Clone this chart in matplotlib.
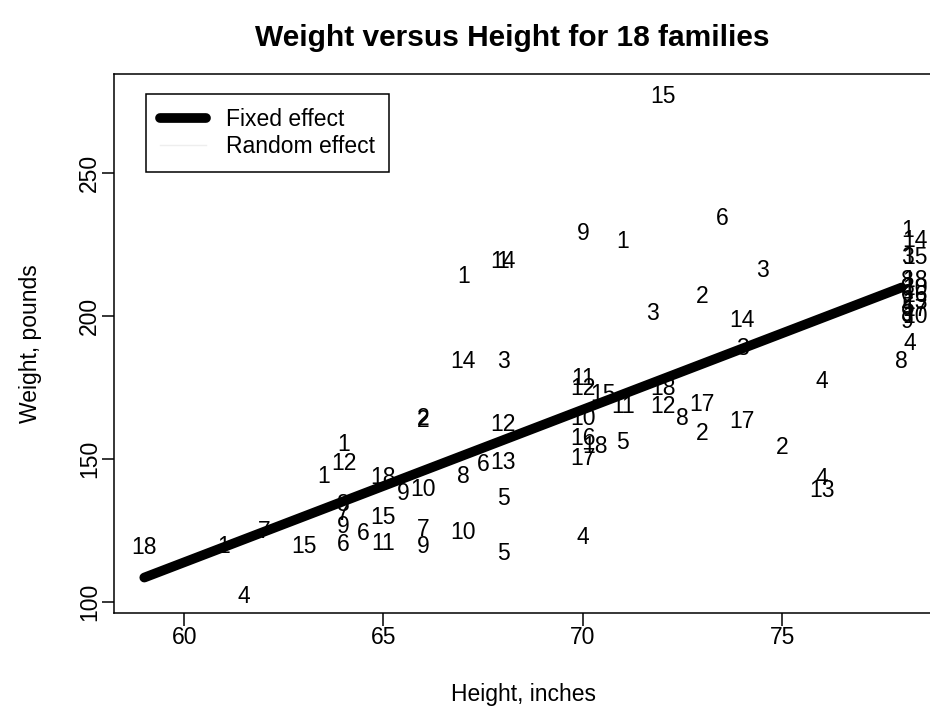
import matplotlib
matplotlib.use("Agg")
import matplotlib.pyplot as plt
from matplotlib.lines import Line2D

plt.rcParams['font.family'] = ['Liberation Sans', 'DejaVu Sans']

# Family number of each person, with height (inches) and weight (pounds)
family = [15, 6, 9, 1, 1, 14, 1, 3, 2, 3, 14, 3, 14, 3, 2, 2, 12,
          1, 14, 3, 15, 8, 18, 3, 10, 6, 16, 2, 13, 5, 17, 9, 10, 9, 4, 8,
          4, 11, 12, 15, 18, 12, 11, 17, 17, 8, 2,
          10, 16, 18, 17, 5, 2, 4, 13, 4, 5, 5, 13, 6, 8, 10, 7, 9, 10, 9,
          18, 15, 11, 6, 6, 15, 1, 12, 1, 8, 7, 9, 4, 18, 1, 7]
height = [72, 73.5, 70, 71, 68, 68, 67, 74.5, 73, 71.75, 74, 74, 67, 68, 66, 66, 68,
          78.15, 78.33, 78.15, 78.33, 78.15, 78.33, 78.15, 78.33, 78.15, 78.33,
          78.15, 78.33, 78.15, 78.33, 78.15, 78.33, 78.15, 78.2, 78,
          76, 70, 70, 70.5, 72, 72, 71, 73, 74, 72.5, 73,
          70, 70, 70.3, 70, 71, 75, 76, 76, 70, 68, 68, 68, 67.5, 67, 67, 66, 66, 66, 65.5,
          65, 65, 65, 64.5, 64, 63, 64, 64, 63.5, 64, 64, 64, 61.5, 59, 61, 62]
weight = [277, 234, 229, 226, 219, 219, 214, 216, 207, 201, 198.5, 188.6, 184, 184, 164, 163.3, 162,
          230, 226.5, 220.6, 220.6, 212.5, 212.5, 210, 209.7, 207.6, 207.3,
          205.2, 204.8, 203.1, 202.3, 200.6, 199.9, 198.1, 190.4, 184,
          177, 178, 174.5, 172.5, 174.5, 168.5, 168.5, 169, 163, 164, 159,
          164, 157, 154.5, 150, 155.7, 154, 143, 139, 122.4, 136, 117, 148.6, 148, 144, 124.3, 125.2, 119.4, 139.3, 138,
          143.5, 129.5, 120.3, 124, 120, 119.5, 155, 148.5, 144, 134, 131, 126.5, 102, 119, 119.2, 124.5]

# Fixed effect regression line, end points
fixed_x = [59, 78]
fixed_y = [108.5, 210]

fig = plt.figure(figsize=(9.3, 7.27), dpi=100)
ax = fig.add_axes([114 / 930, 1 - 613 / 727, (932 - 114) / 930, (613 - 74) / 727])

# Family numbers as plotting symbols
for f, h, w in zip(family, height, weight):
    ax.text(h, w, str(f), ha='center', va='center', fontsize=16.5, color='black', zorder=2)

ax.plot(fixed_x, fixed_y, color='black', lw=7, solid_capstyle='round', zorder=3)

ax.set_xlim(58.24, 78.76)
ax.set_ylim(96.1, 284.7)
ax.set_xticks([60, 65, 70, 75])
ax.set_yticks([100, 150, 200, 250])
ax.tick_params(axis='x', direction='out', length=9, width=1.1, pad=0, labelsize=16.5)
ax.tick_params(axis='y', direction='out', length=9, width=1.1, pad=0.5, labelsize=16.5)
for lab in ax.get_yticklabels():
    lab.set_rotation(90)
    lab.set_va('center')
for sp in ax.spines.values():
    sp.set_linewidth(1.1)

# Legend
handles = [Line2D([0], [0], color='black', lw=7, solid_capstyle='round'),
           Line2D([0], [0], color='#eeeeee', lw=1)]
leg = ax.legend(handles, ['Fixed effect', 'Random effect'], loc='upper left',
                bbox_to_anchor=(0.0391, 0.963), borderaxespad=0, fontsize=16.5,
                handlelength=2.0, handletextpad=0.9, labelspacing=0.2, borderpad=0.6,
                fancybox=False, framealpha=1, edgecolor='black')
leg.get_frame().set_linewidth(1.1)

fig.text(512 / 930, 1 - 38 / 727, 'Weight versus Height for 18 families',
         ha='center', va='center', fontsize=21.5, fontweight='bold')
fig.text(523 / 930, 1 - 695 / 727, 'Height, inches', ha='center', va='center', fontsize=16.5)
fig.text(30 / 930, 1 - 344 / 727, 'Weight, pounds', ha='center', va='center',
         fontsize=16.5, rotation=90)

fig.savefig('out.png', dpi=100)
